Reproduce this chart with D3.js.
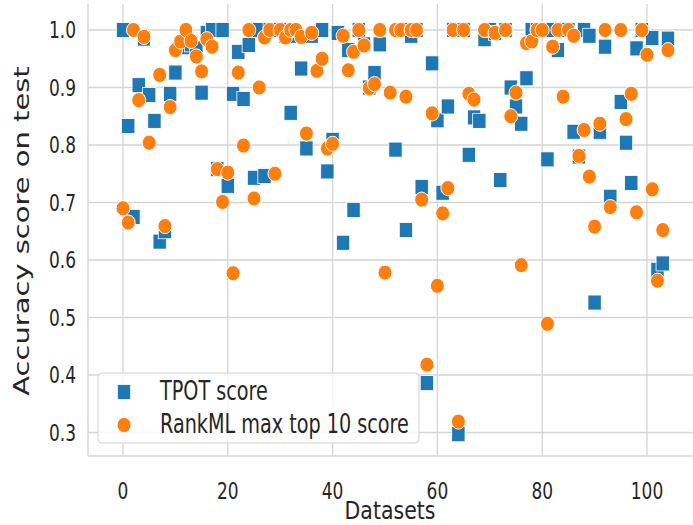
<!DOCTYPE html>
<html>
<head>
<meta charset="utf-8">
<script src="https://cdn.jsdelivr.net/npm/d3@7"></script>
<style>
    body { margin: 0; background: #fff; }
    text { font-family: "DejaVu Sans", sans-serif; fill: #262626; }
</style>
</head>
<body>
<script>
// one value per dataset, null = not visible in the picture
let tpotScore = [
    1.0, 0.833, 0.675, 0.904, 0.985, 0.887, 0.842, 0.632, 0.65, 0.889,
    0.926, 0.975, 0.97, 0.975, 0.968, 0.891, 0.995, 1.0, 0.758, 1.0,
    0.729, 0.889, 0.962, 0.88, 0.974, 0.743, 1.0, 0.746, 1.0, null,
    1.0, 0.99, 0.856, 0.99, 0.933, 0.794, 0.99, null, 1.0, 0.754,
    0.809, 0.995, 0.63, 0.965, 0.687, 1.0, 0.975, 0.9, 0.925, 0.975,
    null, null, 0.792, 1.0, 0.652, 0.99, 1.0, 0.727, 0.386, 0.942,
    0.843, 0.717, 0.867, 1.0, 0.297, 1.0, 0.783, 0.848, 0.842, 0.984,
    1.0, 0.995, 0.739, 1.0, 0.9, 0.867, 0.837, 0.916, 1.0, 1.0,
    1.0, 0.775, 1.0, 0.965, 1.0, 1.0, 0.823, 0.78, 1.0, 0.99,
    0.526, 0.823, 0.971, 0.71, null, 0.875, 0.804, 0.734, 0.968, 1.0,
    null, 0.986, 0.583, 0.594, 0.985
];

let rankmlScore = [
    0.69, 0.665, 1.0, 0.878, 0.988, 0.804, null, 0.922, 0.659, 0.866,
    0.965, 0.98, 1.0, 0.981, 0.954, 0.928, 0.984, 0.971, 0.758, 0.701,
    0.752, 0.577, 0.926, 0.799, 1.0, 0.707, 0.9, 0.987, 1.0, 0.75,
    1.0, 0.987, 1.0, 1.0, 0.988, 0.82, 0.995, 0.929, 0.95, 0.794,
    0.802, null, 0.99, 0.93, 0.962, 1.0, 0.973, 0.899, 0.906, 1.0,
    0.578, 0.891, 1.0, 1.0, 0.884, 1.0, 1.0, 0.705, 0.418, 0.855,
    0.555, 0.681, 0.725, 1.0, 0.319, 1.0, 0.889, 0.879, null, 1.0,
    null, 0.995, null, 1.0, 0.85, 0.891, 0.591, 0.977, 0.98, 1.0,
    1.0, 0.489, 0.971, 1.0, 0.884, 1.0, 0.99, 0.781, 0.826, 0.745,
    0.658, 0.837, 1.0, 0.692, null, 1.0, 0.845, 0.889, 0.683, 1.0,
    0.957, 0.723, 0.564, 0.652, 0.965
];

let xTicks = [0, 20, 40, 60, 80, 100];
let yTicks = [0.3, 0.4, 0.5, 0.6, 0.7, 0.8, 0.9, 1.0];
let seriesNames = ["TPOT score", "RankML max top 10 score"];

let width = 693,
    height = 525,
    plotLeft = 88,
    plotRight = 693,
    plotTop = 4,
    plotBottom = 456,
    stretch = 1.4; // text in the picture is taller than it is wide

let blue = "#1f77b4",
    orange = "#ff7f0e",
    gridColor = "#d5d5d5";

let svg = d3.select("body").append("svg")
    .attr("width", width)
    .attr("height", height);

let x = d3.scaleLinear().domain([0, 100]).range([123, 647]);
let y = d3.scaleLinear().domain([0.3, 1.0]).range([432.5, 30]);

// grid
svg.append("g")
    .selectAll("line")
    .data(xTicks)
    .enter()
    .append("line")
    .attr("x1", d => x(d)).attr("x2", d => x(d))
    .attr("y1", plotTop).attr("y2", plotBottom)
    .attr("stroke", gridColor)
    .attr("stroke-width", 1.3);

svg.append("g")
    .selectAll("line")
    .data(yTicks)
    .enter()
    .append("line")
    .attr("x1", plotLeft).attr("x2", plotRight)
    .attr("y1", d => y(d)).attr("y2", d => y(d))
    .attr("stroke", gridColor)
    .attr("stroke-width", 1.3);

// spines left + bottom (despined)
svg.append("line")
    .attr("x1", plotLeft).attr("x2", plotLeft)
    .attr("y1", plotTop).attr("y2", plotBottom)
    .attr("stroke", gridColor).attr("stroke-width", 1.5);
svg.append("line")
    .attr("x1", plotLeft).attr("x2", plotRight)
    .attr("y1", plotBottom).attr("y2", plotBottom)
    .attr("stroke", gridColor).attr("stroke-width", 1.5);

function addText(px, py, str, size, anchor, rotate, sy) {
    let t = `translate(${px}, ${py}) scale(1, ${sy || stretch})`;
    if (rotate) t += " rotate(-90)";
    return svg.append("text")
        .attr("transform", t)
        .attr("text-anchor", anchor)
        .attr("dominant-baseline", "central")
        .style("font-size", size + "px")
        .text(str);
}

// tick labels
xTicks.forEach(d => addText(x(d), 491, d, 17, "middle", false, 1.35));
yTicks.forEach(d => addText(76, y(d), d.toFixed(1), 17, "end"));

// axis titles
addText(22, 231, "Accuracy score on test", 20.7, "middle", true);
addText(390, 510, "Datasets", 20.5, "middle", false, 1.25);

let tpotPoints = tpotScore.map((v, i) => ({ i: i, v: v })).filter(d => d.v != null);
let rankPoints = rankmlScore.map((v, i) => ({ i: i, v: v })).filter(d => d.v != null);

let sqW = 13.3, sqH = 15;

svg.append("g")
    .selectAll("rect")
    .data(tpotPoints)
    .enter()
    .append("rect")
    .attr("x", d => x(d.i) - sqW / 2)
    .attr("y", d => y(d.v) - sqH / 2)
    .attr("width", sqW)
    .attr("height", sqH)
    .attr("fill", blue)
    .attr("stroke", "#fff")
    .attr("stroke-width", 0.8);

svg.append("g")
    .selectAll("ellipse")
    .data(rankPoints)
    .enter()
    .append("ellipse")
    .attr("cx", d => x(d.i))
    .attr("cy", d => y(d.v))
    .attr("rx", 7)
    .attr("ry", 7.6)
    .attr("fill", orange)
    .attr("stroke", "#fff")
    .attr("stroke-width", 1);

// legend
let legend = svg.append("g");
legend.append("rect")
    .attr("x", 98).attr("y", 373)
    .attr("width", 321).attr("height", 70)
    .attr("rx", 4)
    .attr("fill", "#fff").attr("fill-opacity", 0.8)
    .attr("stroke", "#d0d0d0").attr("stroke-width", 1);

legend.append("rect")
    .attr("x", 124 - sqW / 2).attr("y", 392 - sqH / 2)
    .attr("width", sqW).attr("height", sqH)
    .attr("fill", blue).attr("stroke", "#fff").attr("stroke-width", 0.8);
legend.append("ellipse")
    .attr("cx", 124).attr("cy", 425)
    .attr("rx", 7).attr("ry", 7.6)
    .attr("fill", orange).attr("stroke", "#fff").attr("stroke-width", 1);

addText(160, 391, seriesNames[0], 19.2, "start");
addText(160, 424, seriesNames[1], 19.2, "start");
</script>
</body>
</html>
